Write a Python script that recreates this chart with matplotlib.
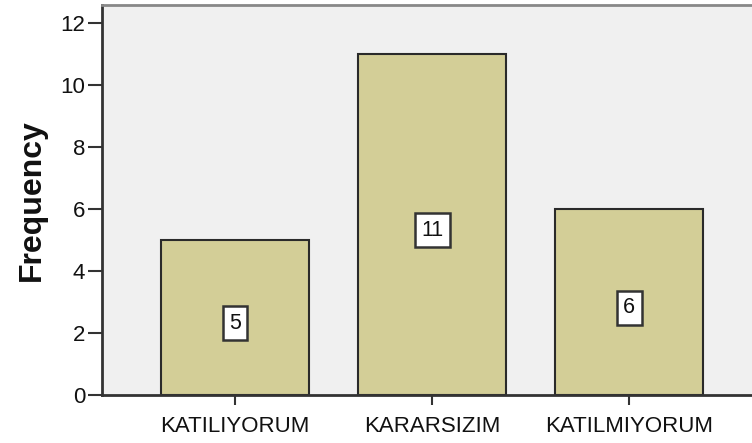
import matplotlib
matplotlib.use("Agg")
import matplotlib.pyplot as plt

categories = ["KATILIYORUM", "KARARSIZIM", "KATILMIYORUM"]
frequencies = [5, 11, 6]
yticks = [0, 2, 4, 6, 8, 10, 12]

plt.rcParams['font.family'] = ['Liberation Sans', 'DejaVu Sans']

fig = plt.figure(figsize=(7.52, 4.43), dpi=100)
ax = fig.add_axes([102/752, 1 - 395/443, 1 - 102/752, (395 - 5)/443])
ax.set_facecolor('#F0F0F0')

x = list(range(len(categories)))
ax.bar(x, frequencies, width=0.75, color='#D3CE97', edgecolor='#2A2A2A', linewidth=1.5, zorder=2)

for xi, v in zip(x, frequencies):
    ax.annotate(str(v), (xi, v / 2), xytext=(0, -4), textcoords='offset points',
                ha='center', va='center', fontsize=15.5, color='#111111', zorder=3,
                bbox=dict(boxstyle='square,pad=0.3', facecolor='white', edgecolor='#333333', linewidth=1.8))

ax.set_xlim(-0.675, 2.624)
ax.set_ylim(0, 12.58)
ax.set_xticks(x)
ax.set_xticklabels(categories, fontsize=16, color='#111111')
ax.set_yticks(yticks)
ax.set_yticklabels([str(t) for t in yticks], fontsize=16, color='#111111')
ax.tick_params(axis='y', length=10, width=1.5, color='#333333', pad=2)
ax.tick_params(axis='x', length=7, width=1.5, color='#333333', pad=8)

ax.set_ylabel('Frequency', fontsize=23, fontweight='bold', labelpad=10, color='#111111')

for s in ['left', 'bottom']:
    ax.spines[s].set_color('#333333')
    ax.spines[s].set_linewidth(2)
ax.spines['top'].set_color('#888888')
ax.spines['top'].set_linewidth(2)
ax.spines['right'].set_visible(False)

fig.savefig('out.png', dpi=100)
